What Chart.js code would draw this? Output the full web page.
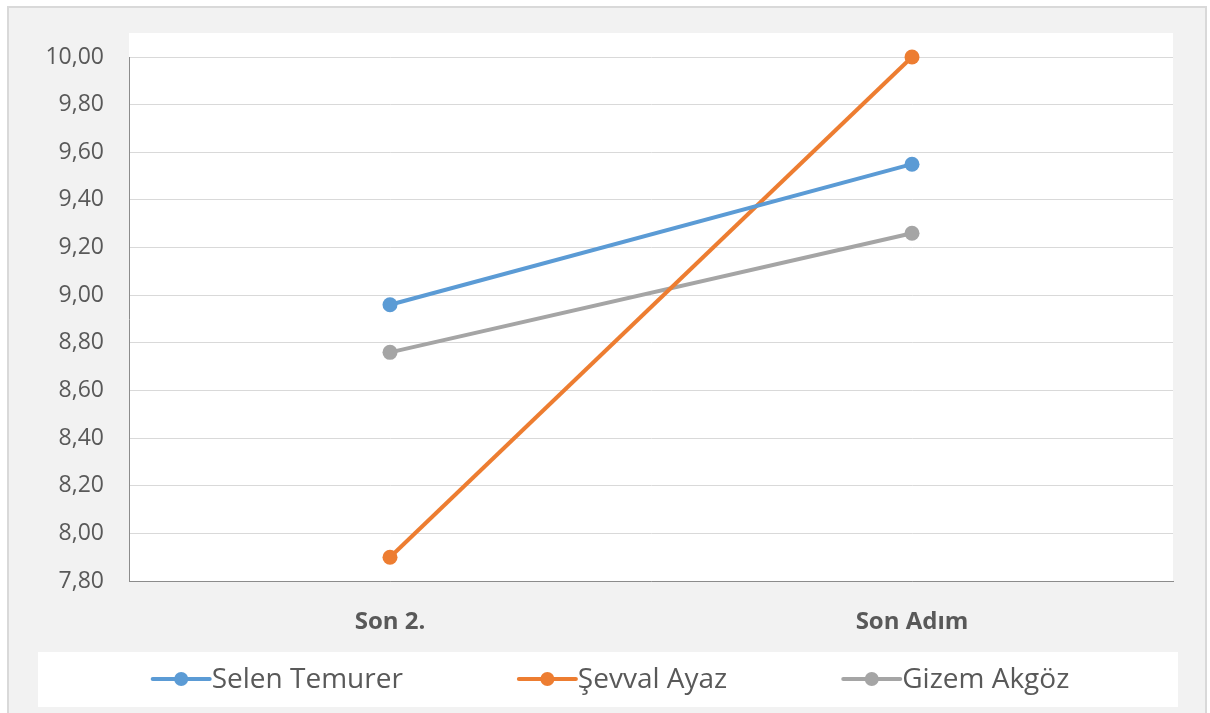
<!DOCTYPE html>
<html>
<head>
<meta charset="utf-8">
<script src="https://cdn.jsdelivr.net/npm/chart.js@4.4.0/dist/chart.umd.min.js"></script>
<style>
html, body { margin: 0; padding: 0; background: #fff; }
</style>
</head>
<body>
<canvas id="myChart" width="1210" height="713"></canvas>
<script>
const categories = ["Son 2.", "Son Adım"]
const selen = [8.96, 9.55]
const sevval = [7.90, 10.00]
const gizem = [8.76, 9.26]
const seriesNames = ["Selen Temurer", "Şevval Ayaz", "Gizem Akgöz"]
const seriesColors = ["#5b9bd5", "#ed7d31", "#a5a5a5"]
const yTicks = [7.8, 8.0, 8.2, 8.4, 8.6, 8.8, 9.0, 9.2, 9.4, 9.6, 9.8, 10.0]

// background frame, white plot area and the legend box
const framePlugin = {
    id: 'frame',
    beforeDraw(chart) {
        let ctx = chart.ctx, a = chart.chartArea
        ctx.save()
        ctx.fillStyle = '#fff'
        ctx.fillRect(0, 0, chart.width, chart.height)
        ctx.fillStyle = '#f2f2f2'
        ctx.fillRect(7, 6, 1200, 720)
        ctx.strokeStyle = '#d9d9d9'
        ctx.lineWidth = 2
        ctx.strokeRect(8, 7, 1198, 720)
        ctx.fillStyle = '#fff'
        ctx.fillRect(a.left, a.top - 24, a.right - a.left, a.bottom - a.top + 24)
        ctx.fillRect(38, 652, 1140, 55)
        ctx.restore()
    },
    afterDraw(chart) {
        let ctx = chart.ctx
        ctx.save()
        ctx.font = '28px "Open Sans"'
        let sets = chart.data.datasets
        let widths = sets.map(d => ctx.measureText(d.label).width)
        let lineLen = 57, gap = 2, spacing = 116
        let total = widths.reduce((s, w) => s + w, 0) + sets.length * (lineLen + gap) + (sets.length - 1) * spacing
        let x = 611 - total / 2
        let y = 679
        sets.forEach((d, i) => {
            ctx.strokeStyle = d.borderColor
            ctx.lineWidth = 4
            ctx.lineCap = 'round'
            ctx.beginPath()
            ctx.moveTo(x, y)
            ctx.lineTo(x + lineLen, y)
            ctx.stroke()
            ctx.fillStyle = d.borderColor
            ctx.beginPath()
            ctx.arc(x + lineLen / 2, y, 7, 0, Math.PI * 2)
            ctx.fill()
            ctx.fillStyle = '#595959'
            ctx.textBaseline = 'middle'
            ctx.fillText(d.label, x + lineLen + gap, y + 1)
            x += lineLen + gap + widths[i] + spacing
        })
        ctx.restore()
    }
}

let seriesData = [selen, sevval, gizem]
let datasets = seriesData.map((vals, i) => ({
    label: seriesNames[i],
    data: vals,
    borderColor: seriesColors[i],
    backgroundColor: seriesColors[i],
    borderWidth: 4,
    pointRadius: 7.5,
    pointHoverRadius: 7.5,
    pointBorderWidth: 0,
    pointBackgroundColor: seriesColors[i],
    tension: 0,
    clip: false
}))

let ctx = document.getElementById('myChart').getContext('2d')
let chart = new Chart(ctx, {
    type: 'line',
    data: { labels: categories, datasets: datasets },
    options: {
        responsive: false,
        animation: false,
        devicePixelRatio: 1,
        layout: { padding: { left: 0, right: 37, top: 57, bottom: 0 } },
        plugins: {
            legend: { display: false },
            tooltip: { enabled: false }
        },
        scales: {
            x: {
                type: 'category',
                offset: true,
                grid: { display: false, drawTicks: false },
                border: { display: true, color: '#8c8c8c', width: 1 },
                ticks: {
                    color: '#595959',
                    padding: 27,
                    font: { family: 'Open Sans', size: 24, weight: 'bold' }
                },
                afterFit(s) { s.height = 132 }
            },
            y: {
                min: 7.8,
                max: 10,
                grid: { color: '#d9d9d9', lineWidth: 1, drawTicks: false },
                border: { display: true, color: '#8c8c8c', width: 1 },
                afterBuildTicks(s) { s.ticks = yTicks.map(v => ({ value: v })) },
                ticks: {
                    color: '#595959',
                    padding: 25,
                    font: { family: 'Open Sans', size: 23 },
                    callback: v => v.toFixed(2).replace('.', ',')
                },
                afterFit(s) { s.width = 129 }
            }
        }
    },
    plugins: [framePlugin]
})
</script>
</body>
</html>
